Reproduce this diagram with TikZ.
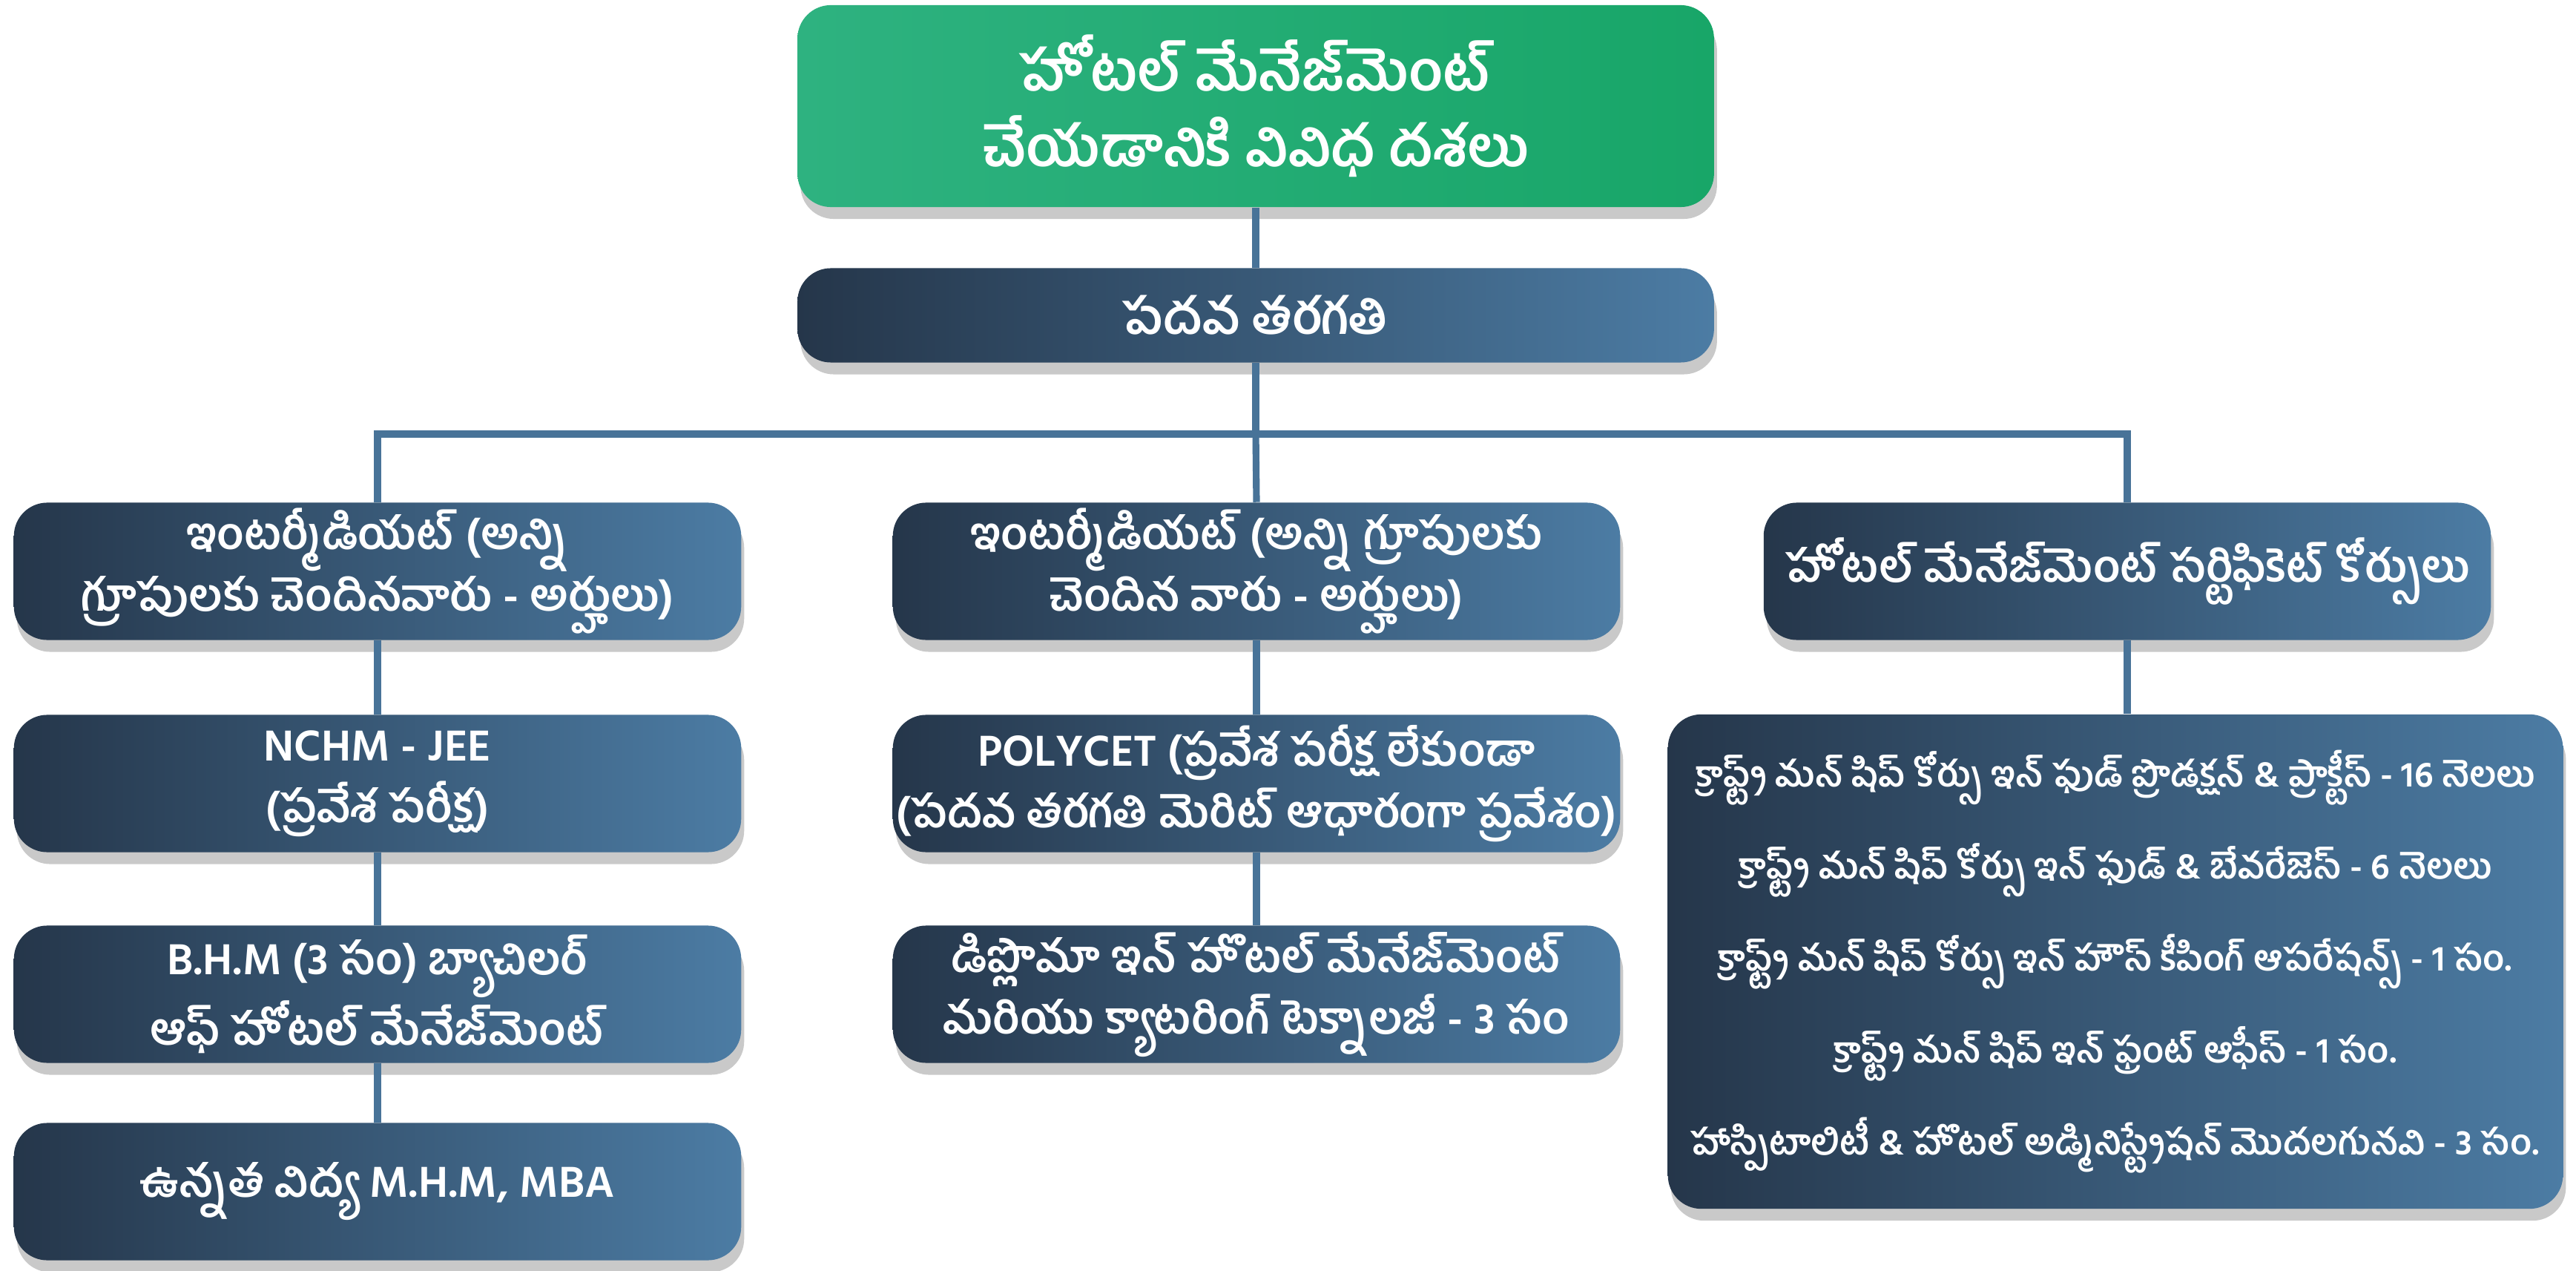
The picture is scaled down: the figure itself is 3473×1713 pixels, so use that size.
\documentclass[tikz,border=0pt]{standalone}
\usepackage{fontspec}
\newfontfamily\telfont[Script=Telugu]{Hind Guntur}
\usetikzlibrary{shadows}
\definecolor{greenL}{RGB}{46,178,128}
\definecolor{greenR}{RGB}{24,166,104}
\definecolor{navyL}{RGB}{37,54,74}
\definecolor{steelR}{RGB}{76,124,164}
\definecolor{linkcol}{RGB}{72,115,152}

\begin{document}
\begin{tikzpicture}[x=0.01cm, y=-0.01cm,
  box/.style={rounded corners=4.5mm, inner sep=0pt, align=center, text=white,
    left color=navyL, right color=steelR, minimum width=9.8cm, minimum height=1.85cm,
    drop shadow={shadow xshift=0.4mm, shadow yshift=-1.6mm, opacity=0.3, fill=black!70},
    font=\telfont\bfseries\fontsize{17}{23.6}\selectfont},
  greenbox/.style={box, left color=greenL, right color=greenR, minimum width=12.35cm,
    minimum height=2.72cm, font=\telfont\bfseries\fontsize{21.5}{29}\selectfont},
  link/.style={draw=linkcol, line width=2.6pt}]
  \useasboundingbox (0,0) rectangle (3473,1713);

  \node[greenbox] (top) at (1693, 143) {హోటల్ మేనేజ్‌మెంట్\\చేయడానికి వివిధ దశలు};
  \node[box, minimum width=12.35cm, minimum height=1.27cm,
    font=\telfont\bfseries\fontsize{19}{26}\selectfont] (tenth) at (1693, 425) {పదవ తరగతి};

  % left column
  \node[box] (inter1) at (509, 770) {ఇంటర్మీడియట్ (అన్ని\\గ్రూపులకు చెందినవారు - అర్హులు)};
  \node[box] (nchm) at (509, 1056) {NCHM - JEE\\(ప్రవేశ పరీక్ష)};
  \node[box] (bhm) at (509, 1340) {B.H.M (3 సం) బ్యాచిలర్\\ఆఫ్ హోటల్ మేనేజ్‌మెంట్};
  \node[box] (higher) at (509, 1606) {ఉన్నత విద్య M.H.M, MBA};

  % middle column
  \node[box] (inter2) at (1694, 770) {ఇంటర్మీడియట్ (అన్ని గ్రూపులకు\\చెందిన వారు - అర్హులు)};
  \node[box] (polycet) at (1694, 1056) {POLYCET (ప్రవేశ పరీక్ష లేకుండా\\(పదవ తరగతి మెరిట్ ఆధారంగా ప్రవేశం)};
  \node[box] (diploma) at (1694, 1340) {డిప్లొమా ఇన్ హొటల్ మేనేజ్‌మెంట్\\మరియు క్యాటరింగ్ టెక్నాలజీ - 3 సం};

  % right column
  \node[box] (cert) at (2868, 770) {హోటల్ మేనేజ్‌మెంట్ సర్టిఫికెట్ కోర్సులు};
  \node[box, minimum width=12.06cm, minimum height=6.66cm,
    font=\telfont\bfseries\fontsize{13.6}{35.3}\selectfont] (courses) at (2852, 1296)
    {క్రాఫ్ట్స్ మన్ షిప్ కోర్సు ఇన్ ఫుడ్ ప్రొడక్షన్ \& ప్రాక్టీస్ - 16 నెలలు\\
     క్రాఫ్ట్స్ మన్ షిప్ కోర్సు ఇన్ ఫుడ్ \& బేవరేజెస్ - 6 నెలలు\\
     క్రాఫ్ట్స్ మన్ షిప్ కోర్సు ఇన్ హౌస్ కీపింగ్ ఆపరేషన్స్ - 1 సం.\\
     క్రాఫ్ట్స్ మన్ షిప్ ఇన్ ఫ్రంట్ ఆఫీస్ - 1 సం.\\
     హాస్పిటాలిటీ \& హొటల్ అడ్మినిస్ట్రేషన్ మొదలగునవి - 3 సం.};

  \coordinate (bus) at (1693, 585);
  \draw[link] (top) -- (tenth);
  \draw[link] (tenth) -- (bus);
  \draw[link] (inter1.north) |- (bus) -| (cert.north);
  \draw[link] (bus) -- (inter2.north);
  \draw[link] (inter1) -- (nchm);
  \draw[link] (nchm) -- (bhm);
  \draw[link] (bhm) -- (higher);
  \draw[link] (inter2) -- (polycet);
  \draw[link] (polycet) -- (diploma);
  \draw[link] (cert.south) -- (cert.south |- courses.north);
\end{tikzpicture}
\end{document}
